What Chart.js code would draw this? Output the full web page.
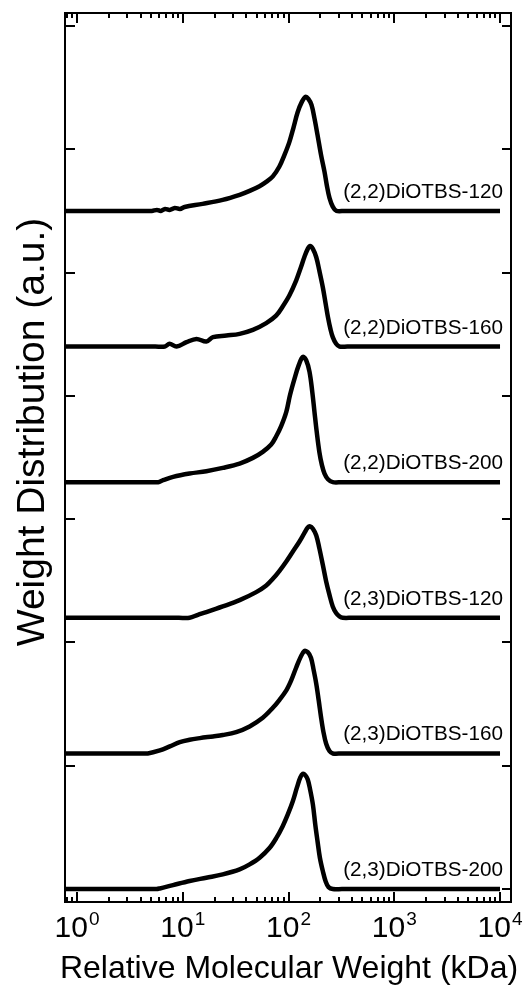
<!DOCTYPE html>
<html>
<head>
<meta charset="utf-8">
<script src="https://cdn.jsdelivr.net/npm/chart.js@4.4.1/dist/chart.umd.min.js"></script>
<style>
  html, body { margin: 0; padding: 0; background: #fff; }
  #wrap { position: relative; width: 526px; height: 987px; }
</style>
</head>
<body>
<div id="wrap"><canvas id="gpc"></canvas></div>
<script>
// GPC traces, molecular weight in kDa and normalised weight fraction
const mw22_120 = [0.77, 4, 5.1, 5.7, 6.2, 6.8, 7.5, 8.4, 9.4, 10.4, 15.4, 23.8, 34.5, 42.9, 53.2, 62, 71.1, 82, 91.6, 102, 111, 122, 134, 145, 154, 165, 176, 188, 203, 219, 230, 244, 262, 284, 340, 10000];
const w22_120 = [0, 0, 0, 0.008, 0, 0.016, 0.008, 0.024, 0.016, 0.032, 0.057, 0.089, 0.13, 0.162, 0.2, 0.237, 0.28, 0.36, 0.454, 0.56, 0.67, 0.8, 0.886, 0.925, 0.908, 0.86, 0.75, 0.616, 0.454, 0.316, 0.21, 0.105, 0.035, 0, 0, 0];

const mw22_160 = [0.77, 5.5, 6.77, 7.5, 8.73, 10.85, 13.46, 16.7, 19.3, 25.9, 34.5, 46, 61.6, 76.3, 88.1, 101.8, 118, 131, 141, 152, 160, 170, 183, 195.6, 211, 224.6, 236, 249, 262, 282, 303, 360, 10000];
const w22_160 = [0, 0, 0, 0.022, 0, 0.035, 0.062, 0.04, 0.076, 0.089, 0.103, 0.135, 0.19, 0.25, 0.325, 0.414, 0.535, 0.643, 0.724, 0.792, 0.815, 0.792, 0.724, 0.616, 0.481, 0.346, 0.238, 0.143, 0.076, 0.022, 0, 0, 0];

const mw22_200 = [0.77, 4.7, 5.85, 6.52, 8.1, 11.6, 16.7, 23.9, 34.5, 46, 57.1, 68.6, 76.3, 85.2, 95.3, 103.2, 114, 125, 136.6, 146.9, 158, 167.8, 176, 184.8, 195.6, 207, 219, 236, 262, 320, 10000];
const w22_200 = [0, 0, 0, 0.016, 0.043, 0.07, 0.089, 0.116, 0.151, 0.197, 0.246, 0.305, 0.37, 0.455, 0.57, 0.705, 0.84, 0.949, 1.016, 0.989, 0.895, 0.732, 0.57, 0.408, 0.246, 0.138, 0.07, 0.024, 0, 0, 0];

const mw23_120 = [0.77, 9.2, 11.6, 13.9, 16.7, 23.9, 34.5, 49.5, 61.6, 71.1, 82.2, 95.3, 110, 127, 141, 152, 160, 170, 183, 195.6, 211, 227, 244, 262, 282, 303, 326, 400, 10000];
const w23_120 = [0, 0, 0, 0.024, 0.046, 0.092, 0.143, 0.208, 0.262, 0.316, 0.381, 0.457, 0.538, 0.619, 0.686, 0.732, 0.741, 0.722, 0.668, 0.565, 0.43, 0.295, 0.186, 0.092, 0.038, 0.011, 0, 0, 0];

const mw23_160 = [0.77, 3.7, 4.67, 6.07, 7.55, 9.37, 11.6, 14.5, 19.3, 23.9, 32, 42.9, 57.1, 71.1, 82.2, 95.3, 106, 118, 130, 141, 152, 163, 172, 183, 193, 203, 214, 227, 244, 262, 320, 10000];
const w23_160 = [0, 0, 0, 0.024, 0.057, 0.092, 0.111, 0.124, 0.138, 0.149, 0.173, 0.219, 0.289, 0.37, 0.435, 0.511, 0.592, 0.695, 0.781, 0.83, 0.822, 0.776, 0.686, 0.565, 0.43, 0.295, 0.173, 0.078, 0.019, 0, 0, 0];

const mw23_200 = [0.77, 4.5, 5.64, 6.07, 8.1, 11.6, 16.7, 23.9, 34.5, 42.9, 53.3, 66.4, 76.3, 88.1, 98.5, 110, 120, 129, 136.6, 144, 152, 160, 170, 179, 188, 198, 211, 225, 239, 262, 320, 10000];
const w23_200 = [0, 0, 0, 0.005, 0.032, 0.065, 0.092, 0.119, 0.159, 0.2, 0.254, 0.335, 0.411, 0.51, 0.605, 0.714, 0.822, 0.903, 0.935, 0.924, 0.889, 0.808, 0.686, 0.524, 0.389, 0.254, 0.146, 0.059, 0.016, 0, 0, 0];

const sampleNames = ["(2,2)DiOTBS-120", "(2,2)DiOTBS-160", "(2,2)DiOTBS-200",
                     "(2,3)DiOTBS-120", "(2,3)DiOTBS-160", "(2,3)DiOTBS-200"];
const traces = [[mw22_120, w22_120], [mw22_160, w22_160], [mw22_200, w22_200],
                [mw23_120, w23_120], [mw23_160, w23_160], [mw23_200, w23_200]];
// vertical stacking step between traces
const offsets = [5.5, 4.4, 3.3, 2.2, 1.1, 0];

const xDecades = [0, 1, 2, 3, 4];
const yTicks = [0, 1, 2, 3, 4, 5, 6, 7];

const FONT = '"Liberation Sans", Arial, Helvetica, sans-serif';

const datasets = traces.map(([mw, w], i) => ({
  label: sampleNames[i],
  data: mw.map((m, j) => ({ x: m, y: w[j] + offsets[i] })),
  borderColor: "#000",
  borderWidth: 4.5,
  borderJoinStyle: "round",
  pointRadius: 0,
  fill: false,
  tension: 0.35,
}));

// frame, inward ticks, labels and titles drawn on top of the plot
const axesPlugin = {
  id: "axesPlugin",
  afterDraw(chart) {
    const { ctx, chartArea: a, scales } = chart;
    const xs = scales.x, ys = scales.y;
    ctx.save();
    ctx.strokeStyle = "#000";
    ctx.fillStyle = "#000";
    ctx.lineWidth = 2;
    ctx.strokeRect(a.left, a.top, a.right - a.left, a.bottom - a.top);

    // x ticks, major and minor, on bottom and top
    ctx.beginPath();
    for (let d = -1; d <= 4; d++) {
      for (let k = 1; k <= 9; k++) {
        const v = k * Math.pow(10, d);
        if (v < xs.min || v > xs.max) continue;
        const px = Math.round(xs.getPixelForValue(v));
        const len = k === 1 ? 10 : 5;
        ctx.moveTo(px, a.bottom); ctx.lineTo(px, a.bottom - len);
        ctx.moveTo(px, a.top); ctx.lineTo(px, a.top + len);
      }
    }
    // y ticks on left and right
    yTicks.forEach(t => {
      const py = Math.round(ys.getPixelForValue(t));
      ctx.moveTo(a.left, py); ctx.lineTo(a.left + 10, py);
      ctx.moveTo(a.right, py); ctx.lineTo(a.right - 9, py);
    });
    ctx.stroke();

    // decade labels 10^n
    ctx.textBaseline = "alphabetic";
    xDecades.forEach(n => {
      const px = xs.getPixelForValue(Math.pow(10, n));
      ctx.font = "30px " + FONT;
      const wb = ctx.measureText("10").width;
      ctx.font = "19px " + FONT;
      const we = ctx.measureText(String(n)).width;
      const x0 = px - (wb + we + 1) / 2;
      ctx.font = "30px " + FONT;
      ctx.textAlign = "left";
      ctx.fillText("10", x0, 937);
      ctx.font = "19px " + FONT;
      ctx.fillText(String(n), x0 + wb + 1, 925);
    });

    // axis titles
    ctx.font = "32px " + FONT;
    ctx.textAlign = "center";
    ctx.fillText("Relative Molecular Weight (kDa)", 289, 978);
    ctx.save();
    ctx.translate(44, 432);
    ctx.rotate(-Math.PI / 2);
    ctx.font = "39px " + FONT;
    ctx.fillText("Weight Distribution (a.u.)", 0, 0);
    ctx.restore();

    // sample names above each baseline
    ctx.font = "20.7px " + FONT;
    ctx.textAlign = "right";
    sampleNames.forEach((name, i) => {
      const py = ys.getPixelForValue(offsets[i]);
      ctx.fillText(name, 503, py - 13);
    });
    ctx.restore();
  },
};

new Chart(document.getElementById("gpc"), {
  type: "line",
  data: { datasets },
  options: {
    responsive: true,
    maintainAspectRatio: false,
    animation: false,
    layout: { padding: { left: 65, right: 15, top: 13, bottom: 85 } },
    plugins: { legend: { display: false }, tooltip: { enabled: false } },
    scales: {
      x: { type: "logarithmic", min: 0.77, max: 12700, display: false },
      y: { type: "linear", min: -0.105, max: 7.105, display: false },
    },
  },
  plugins: [axesPlugin],
});
</script>
</body>
</html>
